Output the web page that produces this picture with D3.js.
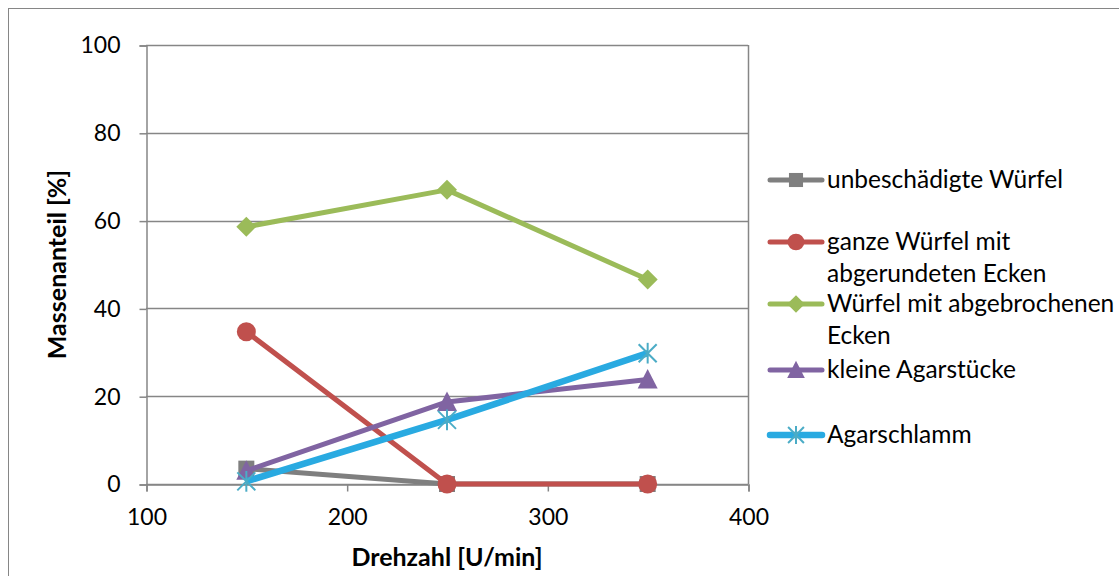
<!DOCTYPE html>
<html>
<head>
<meta charset="utf-8">
<script src="https://cdn.jsdelivr.net/npm/d3@7"></script>
<style>
  html, body { margin: 0; padding: 0; background: #fff; }
  svg { display: block; }
  text { font-family: Lato, "Open Sans", "DejaVu Sans", sans-serif; fill: #000; }
</style>
</head>
<body>
<svg id="chart" width="1119" height="576"></svg>
<script>
// Drehzahl (x) values
const speeds = [150, 250, 350];

// Massenanteil per fraction, in %
const unbeschaedigt = [3.5, 0, 0];
const ganzeAbgerundet = [34.7, 0, 0];
const abgebrochen = [58.6, 67.0, 46.6];
const kleineStuecke = [3.0, 18.7, 23.8];
const schlamm = [0.6, 14.6, 29.8];

const seriesNames = [
  ["unbeschädigte Würfel"],
  ["ganze Würfel mit", "abgerundeten Ecken"],
  ["Würfel mit abgebrochenen", "Ecken"],
  ["kleine Agarstücke"],
  ["Agarschlamm"]
];

const xTicks = [100, 200, 300, 400];
const yTicks = [0, 20, 40, 60, 80, 100];

const series = [
  { name: seriesNames[0], values: unbeschaedigt, line: "#7f7f7f", fill: "#7f7f7f", marker: "square", width: 5 },
  { name: seriesNames[1], values: ganzeAbgerundet, line: "#c0504d", fill: "#c0504d", marker: "circle", width: 5 },
  { name: seriesNames[2], values: abgebrochen, line: "#9bbb59", fill: "#9bbb59", marker: "diamond", width: 5 },
  { name: seriesNames[3], values: kleineStuecke, line: "#8064a2", fill: "#8064a2", marker: "triangle", width: 5 },
  { name: seriesNames[4], values: schlamm, line: "#29aae1", fill: "#4bacc6", marker: "star", width: 6.5 }
];

const svg = d3.select("#chart");

// chart frame
svg.append("rect")
  .attr("x", 8.5).attr("y", 8.5)
  .attr("width", 1200).attr("height", 700)
  .attr("fill", "#fff").attr("stroke", "#868686").attr("stroke-width", 1);

const plot = { left: 146, right: 748, top: 45, bottom: 484 };

const x = d3.scaleLinear().domain([100, 400]).range([plot.left, plot.right]);
const y = d3.scaleLinear().domain([0, 100]).range([plot.bottom, plot.top]);

// horizontal gridlines
svg.append("g")
  .selectAll("line")
  .data(yTicks)
  .join("line")
  .attr("x1", plot.left).attr("x2", plot.right)
  .attr("y1", d => Math.round(y(d)) + 0.5).attr("y2", d => Math.round(y(d)) + 0.5)
  .attr("stroke", "#868686").attr("stroke-width", 1.5);

// right plot border
svg.append("line")
  .attr("x1", plot.right + 0.5).attr("x2", plot.right + 0.5)
  .attr("y1", plot.top).attr("y2", plot.bottom)
  .attr("stroke", "#868686").attr("stroke-width", 1.5);

// y axis
const yAxis = svg.append("g")
  .attr("transform", `translate(${plot.left + 0.5},0.5)`)
  .call(d3.axisLeft(y).tickValues(yTicks).tickSize(7).tickPadding(19).tickFormat(d3.format("d")));
yAxis.select(".domain").attr("stroke", "#868686").attr("stroke-width", 1.5);
yAxis.selectAll(".tick line").attr("stroke", "#868686").attr("stroke-width", 1.5);
yAxis.selectAll(".tick text").style("font-size", "23px").attr("fill", "#000");

// x axis
const xAxis = svg.append("g")
  .attr("transform", `translate(0.5,${plot.bottom + 0.5})`)
  .call(d3.axisBottom(x).tickValues(xTicks).tickSize(7).tickPadding(17).tickFormat(d3.format("d")));
xAxis.select(".domain").attr("stroke", "#868686").attr("stroke-width", 1.5);
xAxis.selectAll(".tick line").attr("stroke", "#868686").attr("stroke-width", 1.5);
xAxis.selectAll(".tick text").style("font-size", "23px").attr("fill", "#000");

// axis titles
svg.append("text")
  .attr("x", 447).attr("y", 566)
  .attr("text-anchor", "middle")
  .style("font-size", "25px").style("font-weight", "bold")
  .text("Drehzahl [U/min]");

svg.append("text")
  .attr("transform", `translate(66,${(plot.top + plot.bottom) / 2}) rotate(-90)`)
  .attr("text-anchor", "middle")
  .style("font-size", "25px").style("font-weight", "bold")
  .text("Massenanteil [%]");

// marker shapes; k scales the marker (legend markers are a little smaller)
function drawMarker(g, type, cx, cy, s, k) {
  if (type === "square") {
    const h = 8 * k;
    g.append("rect").attr("x", cx - h).attr("y", cy - h).attr("width", 2 * h).attr("height", 2 * h).attr("fill", s.fill);
  } else if (type === "circle") {
    g.append("circle").attr("cx", cx).attr("cy", cy).attr("r", 9.5 * k).attr("fill", s.fill);
  } else if (type === "diamond") {
    const h = 10 * k;
    g.append("path").attr("d", `M${cx},${cy - h}L${cx + h},${cy}L${cx},${cy + h}L${cx - h},${cy}Z`).attr("fill", s.fill);
  } else if (type === "triangle") {
    const h = 10 * k;
    g.append("path").attr("d", `M${cx},${cy - h * 1.05}L${cx + h},${cy + h * 0.9}L${cx - h},${cy + h * 0.9}Z`).attr("fill", s.fill);
  } else if (type === "star") {
    const r = 9 * k;
    const p = [
      [cx - r, cy - r, cx + r, cy + r],
      [cx - r, cy + r, cx + r, cy - r],
      [cx, cy - r * 1.15, cx, cy + r * 1.15]
    ];
    p.forEach(l => g.append("line")
      .attr("x1", l[0]).attr("y1", l[1]).attr("x2", l[2]).attr("y2", l[3])
      .attr("stroke", s.fill).attr("stroke-width", 2));
  }
}

const line = d3.line().x(d => x(d[0])).y(d => y(d[1]));

// series lines and markers
series.forEach(s => {
  const g = svg.append("g");
  const pts = speeds.map((v, i) => [v, s.values[i]]);
  g.append("path")
    .attr("d", line(pts))
    .attr("fill", "none")
    .attr("stroke", s.line)
    .attr("stroke-width", s.width)
    .attr("stroke-linejoin", "round");
  pts.forEach(p => drawMarker(g, s.marker, x(p[0]), y(p[1]), s, 1));
});

// legend
const legendRows = [180, 242, 304, 370, 435];
const legend = svg.append("g");
series.forEach((s, i) => {
  const cy = legendRows[i];
  const g = legend.append("g");
  g.append("line")
    .attr("x1", 770).attr("x2", 822).attr("y1", cy).attr("y2", cy)
    .attr("stroke", s.line).attr("stroke-width", s.width).attr("stroke-linecap", "round");
  drawMarker(g, s.marker, 796, cy, s, 0.88);
  s.name.forEach((t, j) => {
    g.append("text")
      .attr("x", 827).attr("y", cy + 8 + j * 32)
      .style("font-size", "24.5px")
      .text(t);
  });
});
</script>
</body>
</html>
